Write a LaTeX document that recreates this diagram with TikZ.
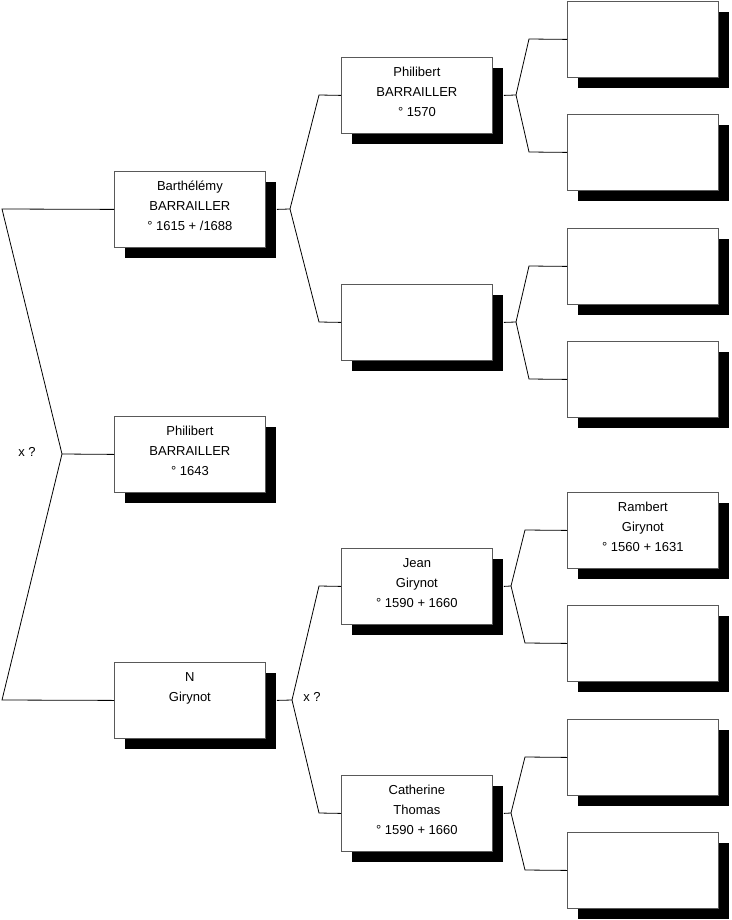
\documentclass[tikz,border=0pt]{standalone}
\usepackage{fontspec}
\setmainfont{Liberation Sans}
\usetikzlibrary{shadows}
\begin{document}
\begin{tikzpicture}[x=1pt,y=-1pt,
  personbox/.style={draw=black!65, line width=0.8pt, fill=white, minimum width=151pt, minimum height=76pt, inner sep=0pt, anchor=north west,
    general shadow={shadow xshift=11pt, shadow yshift=-11pt, fill=black}},
  persontext/.style={anchor=north, align=center, inner sep=0pt, font=\fontsize{13}{20}\selectfont},
  link/.style={draw=black, line width=0.8pt},
  marklabel/.style={font=\fontsize{13}{15}\selectfont, inner sep=0pt}]
\path[fill=white] (0,0) rectangle (731,920);
\useasboundingbox (0,0) rectangle (731,920);
% generation 1
\node[personbox] (b1) at (114,171) {};
\node[personbox] (b2) at (114,416) {};
\node[personbox] (b3) at (114,662) {};
% generation 2
\node[personbox] (c1) at (341,57) {};
\node[personbox] (c2) at (341,284) {};
\node[personbox] (c3) at (341,548) {};
\node[personbox] (c4) at (341,775) {};
% generation 3
\node[personbox] (d1) at (567,1) {};
\node[personbox] (d2) at (567,114) {};
\node[personbox] (d3) at (567,228) {};
\node[personbox] (d4) at (567,341) {};
\node[personbox] (d5) at (567,492) {};
\node[personbox] (d6) at (567,605) {};
\node[personbox] (d7) at (567,719) {};
\node[personbox] (d8) at (567,832) {};
% texts
\node[persontext] (tb1) at ([yshift=-10pt]b1.north) {Barthélémy\\BARRAILLER\\° 1615 + /1688};
\node[persontext] (tb2) at ([yshift=-10pt]b2.north) {Philibert\\BARRAILLER\\° 1643};
\node[persontext] (tb3) at ([yshift=-10pt]b3.north) {N\\Girynot};
\node[persontext] (tc1) at ([yshift=-10pt]c1.north) {Philibert\\BARRAILLER\\° 1570};
\node[persontext] (tc3) at ([yshift=-10pt]c3.north) {Jean\\Girynot\\° 1590 + 1660};
\node[persontext] (tc4) at ([yshift=-10pt]c4.north) {Catherine\\Thomas\\° 1590 + 1660};
\node[persontext] (td5) at ([yshift=-10pt]d5.north) {Rambert\\Girynot\\° 1560 + 1631};
% labels
\node[marklabel] (x1) at (27,452) {x ?};
\node[marklabel] (x2) at (312,697) {x ?};
% connector points
\coordinate (rv) at (62,454);
\coordinate (r1) at (2,209);
\coordinate (r3) at (2,700);
\coordinate (v1) at (290,209);
\coordinate (v1a) at (319,95);
\coordinate (v1b) at (319,322);
\coordinate (v3) at (292,700);
\coordinate (v3a) at (319,586);
\coordinate (v3b) at (319,813);
\coordinate (wa) at (516,95);
\coordinate (wa1) at (529,39);
\coordinate (wa2) at (529,152);
\coordinate (wb) at (516,322);
\coordinate (wb1) at (529,266);
\coordinate (wb2) at (529,379);
\coordinate (wc) at (511,586);
\coordinate (wc1) at (525,530);
\coordinate (wc2) at (525,643);
\coordinate (wd) at (511,813);
\coordinate (wd1) at (525,757);
\coordinate (wd2) at (525,870);
% connectors
\draw[link] (b1.west) -- (r1) -- (rv) -- (b2.west);
\draw[link] (b3.west) -- (r3) -- (rv);
\draw[link] ([xshift=11pt]b1.east) -- (v1) -- (v1a) -- (c1.west);
\draw[link] (v1) -- (v1b) -- (c2.west);
\draw[link] ([xshift=11pt]b3.east) -- (v3) -- (v3a) -- (c3.west);
\draw[link] (v3) -- (v3b) -- (c4.west);
\draw[link] ([xshift=11pt]c1.east) -- (wa) -- (wa1) -- (d1.west);
\draw[link] (wa) -- (wa2) -- (d2.west);
\draw[link] ([xshift=11pt]c2.east) -- (wb) -- (wb1) -- (d3.west);
\draw[link] (wb) -- (wb2) -- (d4.west);
\draw[link] ([xshift=11pt]c3.east) -- (wc) -- (wc1) -- (d5.west);
\draw[link] (wc) -- (wc2) -- (d6.west);
\draw[link] ([xshift=11pt]c4.east) -- (wd) -- (wd1) -- (d7.west);
\draw[link] (wd) -- (wd2) -- (d8.west);
\end{tikzpicture}
\end{document}
